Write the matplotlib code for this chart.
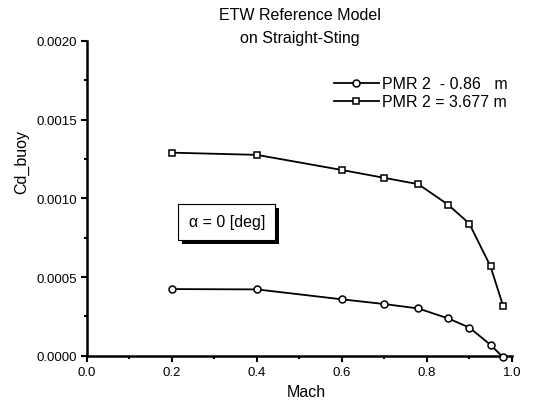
import matplotlib
matplotlib.use("Agg")
import matplotlib.pyplot as plt
from matplotlib.ticker import MultipleLocator, FormatStrFormatter
import matplotlib.patheffects as pe

plt.rcParams['font.family'] = ['Liberation Sans', 'DejaVu Sans']

mach = [0.2, 0.4, 0.6, 0.7, 0.78, 0.85, 0.9, 0.95, 0.98]
cd_pmr_086 = [0.000424, 0.000422, 0.000359, 0.000329, 0.000301, 0.000238, 0.000180, 0.000070, -0.000010]
cd_pmr_3677 = [0.00129, 0.001276, 0.00118, 0.00113, 0.00109, 0.00096, 0.00084, 0.000568, 0.000314]

labels = ["PMR 2  - 0.86   m", "PMR 2 = 3.677 m"]

fig = plt.figure(figsize=(5.37, 4.06), dpi=100)
ax = fig.add_axes([0.162, 0.121, 0.791, 0.776])

ax.plot(mach, cd_pmr_086, color='black', lw=1.3, marker='o', ms=5.0,
        mfc='white', mec='black', mew=1.1, label=labels[0], clip_on=False, zorder=3)
ax.plot(mach, cd_pmr_3677, color='black', lw=1.3, marker='s', ms=4.4,
        mfc='white', mec='black', mew=1.1, label=labels[1], clip_on=False, zorder=3)

ax.set_xlim(0.0, 1.0)
ax.set_ylim(0.0, 0.0020)
ax.xaxis.set_major_locator(MultipleLocator(0.2))
ax.xaxis.set_minor_locator(MultipleLocator(0.1))
ax.yaxis.set_major_locator(MultipleLocator(0.0005))
ax.yaxis.set_minor_locator(MultipleLocator(0.00025))
ax.xaxis.set_major_formatter(FormatStrFormatter('%.1f'))
ax.yaxis.set_major_formatter(FormatStrFormatter('%.4f'))

for s in ['top', 'right']:
    ax.spines[s].set_visible(False)
for s in ['left', 'bottom']:
    ax.spines[s].set_linewidth(1.8)

ax.tick_params(which='major', direction='out', length=4, width=1.5, pad=3, labelsize=9.5)
ax.tick_params(which='minor', direction='out', length=2.5, width=1.5)

ax.set_xlabel('Mach', fontsize=11.5)
ax.xaxis.set_label_coords(0.517, -0.09)
ax.set_ylabel('Cd_buoy', fontsize=11.5)
ax.yaxis.set_label_coords(-0.135, 0.62)

fig.text(0.559, 0.963, 'ETW Reference Model', ha='center', va='center', fontsize=11.5)
fig.text(0.559, 0.905, 'on Straight-Sting', ha='center', va='center', fontsize=11.5)

fig.legend(loc='upper left', bbox_to_anchor=(0.622, 0.81), frameon=False,
           fontsize=11.5, handlelength=2.8, handletextpad=0.2, labelspacing=0.2,
           borderpad=0, borderaxespad=0)

ax.text(0.329, 0.00085, 'α = 0 [deg]', fontsize=11.5, ha='center', va='center',
        bbox=dict(boxstyle='square,pad=0.65', fc='white', ec='black', lw=0.8,
                  path_effects=[pe.withSimplePatchShadow(offset=(3, -3), shadow_rgbFace='black', alpha=1.0)]))

fig.savefig('out.png', dpi=100)
